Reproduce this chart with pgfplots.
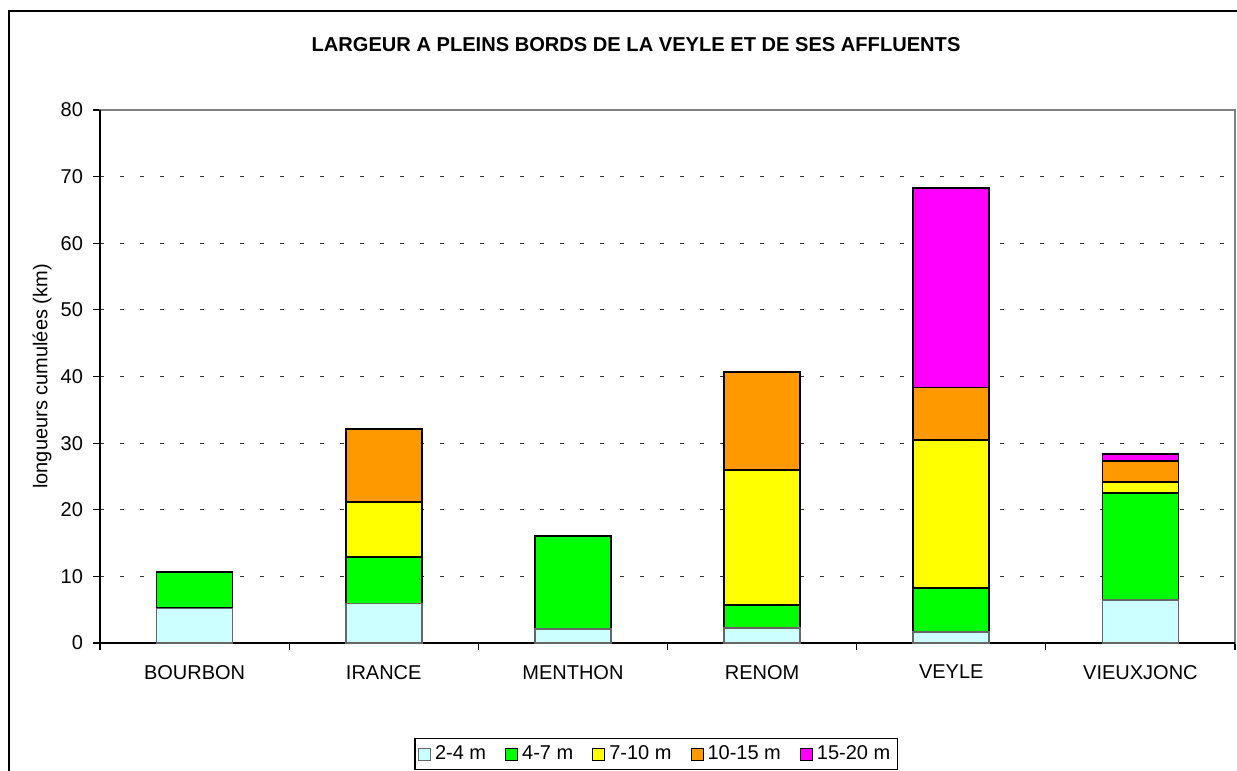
\documentclass[border=0pt]{standalone}
\usepackage{pgfplots}
\pgfplotsset{compat=1.18}
\usepackage{pgfplotstable}
\usepackage{fontspec}
\setmainfont{Liberation Sans}
\definecolor{cLB}{HTML}{CCFFFF}
\definecolor{cGR}{HTML}{00FF00}
\definecolor{cYE}{HTML}{FFFF00}
\definecolor{cOR}{HTML}{FF9900}
\definecolor{cMA}{HTML}{FF00FF}
\pgfplotstableread{
x a b c d e
0 5.2 5.4 0 0 0
1 5.9 7.0 8.3 10.9 0
2 2.1 14.0 0 0 0
3 2.25 3.45 20.3 14.7 0
4 1.65 6.6 22.2 7.9 29.9
5 6.45 16.1 1.65 3.1 1.1
}\data
\begin{document}
\begin{tikzpicture}
\path[use as bounding box] (-50pt,-64pt) rectangle (568.5pt,321.5pt);
\draw[black, line width=0.6pt] (-45.5pt,-70pt) -- (-45.5pt,316pt) -- (575pt,316pt);
\node[font=\fontsize{10.05}{12}\selectfont\bfseries] at (268pt,299pt) {LARGEUR A PLEINS BORDS DE LA VEYLE ET DE SES AFFLUENTS};
\begin{axis}[
  scale only axis,
  width=567.5pt, height=266.5pt,
  at={(0,0)}, anchor=south west,
  ybar stacked, bar width=38pt,
  xmin=-0.5, xmax=5.5, ymin=0, ymax=80,
  xtick={0,...,5},
  xticklabels={BOURBON,IRANCE,MENTHON,RENOM,VEYLE,VIEUXJONC},
  major x tick style={draw=none},
  minor xtick={-0.5,0.5,...,5.5},
  minor tick length=3.5pt,
  ytick={0,10,...,80},
  major tick length=3.5pt,
  tick align=outside,
  xtick pos=bottom, ytick pos=left,
  tick style={black, line width=0.6pt},
  ymajorgrids,
  major grid style={dash pattern=on 2pt off 8pt, gray!40!black, line width=0.6pt},
  axis line style={gray, line width=0.6pt},
  ticklabel style={font=\fontsize{10}{12}\selectfont},
  /pgf/number format/assume math mode=true,
  xticklabel style={yshift=-4pt},
  yticklabel style={xshift=-1.5pt},
  ylabel={longueurs cumulées (km)},
  ylabel style={font=\fontsize{10}{12}\selectfont},
  every axis y label/.style={at={(-29pt,0.5)}, rotate=90, anchor=center},
  legend columns=5,
  legend style={at={(0.49,-0.2083)}, anchor=center, draw=black, line width=0.6pt,
    font=\fontsize{10}{12}\selectfont, inner sep=1.5pt,
    /tikz/every even column/.append style={column sep=7.5pt}},
  legend image code/.code={\draw[#1, line width=0.5pt] (0pt,-3pt) rectangle (6pt,3pt);},
  clip=false,
]
\addplot[fill=cLB, draw=gray!80!black, line width=0.8pt] table[x=x,y=a] {\data};
\addplot[fill=cGR, draw=black, line width=0.9pt] table[x=x,y=b] {\data};
\addplot[fill=cYE, draw=black, line width=0.9pt] table[x=x,y=c] {\data};
\addplot[fill=cOR, draw=black, line width=0.9pt] table[x=x,y=d] {\data};
\addplot[fill=cMA, draw=black, line width=0.9pt] table[x=x,y=e] {\data};
\legend{2-4 m,4-7 m,7-10 m,10-15 m,15-20 m}
\draw[black, line width=0.6pt] (rel axis cs:0,1) -- (rel axis cs:0,0) -- (rel axis cs:1,0);
\end{axis}
\end{tikzpicture}
\end{document}
